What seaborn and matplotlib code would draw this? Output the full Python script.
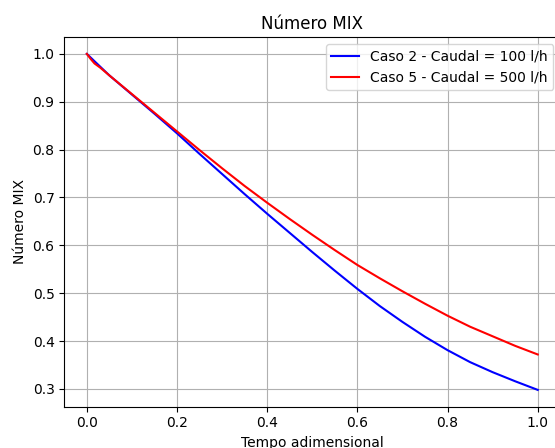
import matplotlib
matplotlib.use("Agg")
import matplotlib.pyplot as plt
import pandas as pd
import seaborn as sns

# Caso 2 - Caudal = 100 l/h
t_caso2 = [0.0, 0.05, 0.1, 0.15, 0.2, 0.25, 0.3, 0.35, 0.4, 0.45, 0.5,
           0.55, 0.6, 0.65, 0.7, 0.75, 0.8, 0.85, 0.9, 0.95, 1.0]
mix_caso2 = [1.0, 0.955, 0.915, 0.875, 0.834, 0.791, 0.749, 0.707, 0.666,
             0.626, 0.586, 0.547, 0.509, 0.473, 0.440, 0.409, 0.381, 0.356,
             0.335, 0.316, 0.298]

# Caso 5 - Caudal = 500 l/h
t_caso5 = [0.0, 0.008, 0.017, 0.03, 0.05, 0.1, 0.15, 0.2, 0.25, 0.3, 0.35,
           0.4, 0.45, 0.5, 0.55, 0.6, 0.65, 0.7, 0.75, 0.8, 0.85, 0.9,
           0.95, 1.0]
mix_caso5 = [1.0, 0.99, 0.98, 0.971, 0.955, 0.916, 0.877, 0.838, 0.799,
             0.761, 0.724, 0.689, 0.655, 0.622, 0.590, 0.559, 0.531, 0.504,
             0.478, 0.453, 0.430, 0.410, 0.390, 0.372]

labels = ["Caso 2 - Caudal = 100 l/h", "Caso 5 - Caudal = 500 l/h"]

df = pd.concat([
    pd.DataFrame({"t": t_caso2, "mix": mix_caso2, "caso": labels[0]}),
    pd.DataFrame({"t": t_caso5, "mix": mix_caso5, "caso": labels[1]}),
], ignore_index=True)

fig = plt.figure(figsize=(5.55, 4.48), dpi=100)
ax = fig.add_axes([64.3 / 555, 41.3 / 448, 496 / 555, 369.6 / 448])

sns.lineplot(data=df, x="t", y="mix", hue="caso",
             palette={labels[0]: "blue", labels[1]: "red"},
             linewidth=1.5, ax=ax, sort=False, estimator=None)

ax.set_xlim(-0.05, 1.05)
ax.set_xticks([0.0, 0.2, 0.4, 0.6, 0.8, 1.0])
ax.set_yticks([0.3, 0.4, 0.5, 0.6, 0.7, 0.8, 0.9, 1.0])
ax.grid(True, color="#b0b0b0", linewidth=0.8)
ax.set_title("Número MIX", fontsize=12)
ax.set_xlabel("Tempo adimensional")
ax.set_ylabel("Número MIX")
ax.legend(loc="upper right")

fig.savefig("out.png", dpi=100)
